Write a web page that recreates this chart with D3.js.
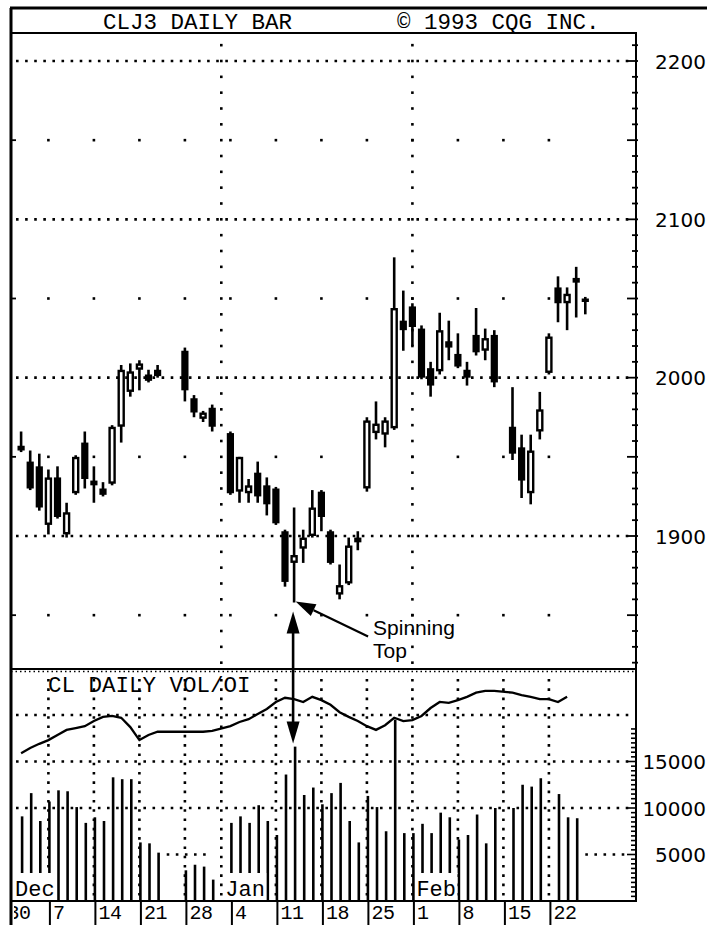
<!DOCTYPE html>
<html>
<head>
<meta charset="utf-8">
<title>CLJ3 Daily Bar</title>
<script src="https://cdn.jsdelivr.net/npm/d3@7"></script>
<style>
  body { margin: 0; background: #fff; }
  svg { display: block; }
  .mono { font-family: 'Liberation Mono', 'DejaVu Sans Mono', monospace; fill: #000; }
  .num { font-family: 'DejaVu Sans', sans-serif; font-size: 20px; fill: #000; }
</style>
</head>
<body>
<div id="chart"></div>
<script>
'use strict'
// daily bars, crude oil April 1993 (CLJ3), prices in cents
let dates = [
  '1992-12-02','1992-12-03','1992-12-04',
  '1992-12-07','1992-12-08','1992-12-09','1992-12-10','1992-12-11',
  '1992-12-14','1992-12-15','1992-12-16','1992-12-17','1992-12-18',
  '1992-12-21','1992-12-22','1992-12-23',
  '1992-12-28','1992-12-29','1992-12-30','1992-12-31',
  '1993-01-04','1993-01-05','1993-01-06','1993-01-07','1993-01-08',
  '1993-01-11','1993-01-12','1993-01-13','1993-01-14','1993-01-15',
  '1993-01-18','1993-01-19','1993-01-20','1993-01-21','1993-01-22',
  '1993-01-25','1993-01-26','1993-01-27','1993-01-28','1993-01-29',
  '1993-02-01','1993-02-02','1993-02-03','1993-02-04','1993-02-05',
  '1993-02-08','1993-02-09','1993-02-10','1993-02-11','1993-02-12',
  '1993-02-16','1993-02-17','1993-02-18','1993-02-19',
  '1993-02-22','1993-02-23','1993-02-24','1993-02-25','1993-02-26'
];
let opens = [
  1957,1947,1944,
  1907,1937,1901,1927,1959,
  1935,1930,1933,1969,1991,
  2005,2002,2005,
  2017,1987,1974,1981,
  1965,1928,1927,1940,1932,
  1930,1903,1883,1892,1900,
  1928,1903,1863,1870,1899,
  1930,1965,1964,1968,2036,
  2045,2031,2006,2004,2023,
  2015,2005,2027,2017,2027,
  1969,1956,1927,1966,
  2003,2057,2047,2063,2050
];
let highs = [
  1966,1954,1952,
  1942,1944,1921,1951,1966,
  1944,1934,1970,2008,2009,
  2011,2005,2008,
  2019,1989,1979,1983,
  1966,1950,1936,1947,1937,
  1931,1904,1918,1904,1929,
  1929,1904,1882,1899,1903,
  1975,1985,1975,2076,2055,
  2047,2033,2010,2041,2036,
  2028,2010,2044,2031,2030,
  1994,1964,1964,1991,
  2028,2064,2057,2070,2051
];
let lows = [
  1953,1929,1916,
  1901,1911,1899,1926,1930,
  1921,1925,1932,1959,1988,
  1992,1997,2000,
  1985,1975,1972,1966,
  1926,1921,1921,1921,1913,
  1907,1868,1858,1883,1899,
  1903,1882,1860,1869,1891,
  1928,1961,1956,1967,2017,
  2020,1999,1988,2002,2011,
  2006,1995,2014,2011,1994,
  1948,1924,1920,1961,
  2002,2035,2030,2038,2040
];
let closes = [
  1954,1930,1918,
  1937,1912,1915,1950,1936,
  1932,1926,1969,2005,2004,
  2009,1998,2001,
  1992,1978,1978,1969,
  1927,1950,1932,1925,1920,
  1908,1871,1888,1899,1918,
  1912,1883,1869,1894,1896,
  1973,1971,1973,2044,2030,
  2032,2000,1995,2030,2019,
  2007,2000,2016,2025,1997,
  1952,1935,1954,1980,
  2026,2047,2053,2060,2048
];
let volumes = [
  9100,11600,8600,
  10700,11900,11800,10100,8400,
  9000,8600,13300,13100,13100,
  6300,6200,5200,
  3300,3900,3700,2300,
  8400,9100,8400,10300,8600,
  7100,13600,16600,11400,12200,
  10400,11600,12700,8600,6300,
  11300,10100,7500,19500,7300,
  7300,8300,7300,9500,9000,
  6600,7100,9300,6200,10000,
  10000,12500,12300,13200,
  null,11500,9000,8900,null
];
let openInt = [
  15900,16450,16900,
  17300,17850,18400,18600,18800,
  19350,19800,19900,19700,18700,
  17300,17850,18200,
  18200,18200,18200,18300,
  18800,19250,19550,20100,20650,
  21400,21850,21700,21400,21950,
  21600,21100,20300,19800,19350,
  18800,18400,18900,19700,19350,
  19450,19900,20750,21400,21300,
  21600,21950,22400,22600,22600,
  22400,22150,21950,21700,
  21700,21400,21950,null,null
];
let weekLabels = ['30','7','14','21','28','4','11','18','25','1','8','15','22'];
let monthLabels = ['Dec','Jan','Feb'];
let monthStarts = ['1992-11-30','1993-01-01','1993-02-01'];
let priceTicks = [1900, 2000, 2100, 2200];
let volTicks = [5000, 10000, 15000];

let W = 707, H = 925;
let L = 11, R = 636, bandTop = 8, bandBot = 33, priceBot = 669, volBot = 901;

let parse = d3.timeParse('%Y-%m-%d');
let day0 = parse('1992-11-30');
// trading slot: five per week, weekends dropped
function slot(ds) {
  let n = d3.timeDay.count(day0, parse(ds));
  return Math.floor(n / 7) * 5 + Math.min(n % 7, 5);
}
let slots = dates.map(slot);
let weekSlots = weekLabels.map((d, i) => i * 5);
let monthSlots = monthStarts.map(slot);

let x = d3.scaleLinear().domain([0, 64]).range([2.9, 585.3]);
let py = d3.scaleLinear().domain([1900, 2200]).range([536, 61]);
let vy = d3.scaleLinear().domain([0, 15000]).range([volBot, 761.5]);

let svg = d3.select('#chart').append('svg')
  .attr('width', W).attr('height', H)
  .attr('viewBox', '0 0 ' + W + ' ' + H);

svg.append('defs').append('clipPath').attr('id', 'dateclip')
  .append('rect').attr('x', L + 2).attr('y', 0).attr('width', W).attr('height', H);

let grid = svg.append('g').attr('fill', '#000');

// price panel: dotted 100s
grid.selectAll('line.hgrid').data(priceTicks).enter().append('line')
  .attr('x1', L + 5).attr('x2', R - 6)
  .attr('y1', d => py(d)).attr('y2', d => py(d))
  .attr('stroke', '#000').attr('stroke-width', 2.6)
  .attr('stroke-dasharray', '2.6 6.5');

// weekly dots on the 50 rows
let halfRows = [1850, 1950, 2050, 2150];
let weekDots = [];
halfRows.forEach(v => weekSlots.slice(1).forEach(s => weekDots.push([s, v])));
grid.selectAll('rect.wdot').data(weekDots).enter().append('rect')
  .attr('x', d => x(d[0]) - 1.3).attr('y', d => py(d[1]) - 1.3)
  .attr('width', 2.6).attr('height', 2.6);

// month lines, a dot every 10 points
let monthDots = [];
monthSlots.slice(1).forEach(s => d3.range(1820, 2220, 10).forEach(v => monthDots.push([s, v])));
grid.selectAll('rect.mdot').data(monthDots).enter().append('rect')
  .attr('x', d => x(d[0]) - 1.3).attr('y', d => py(d[1]) - 1.3)
  .attr('width', 2.6).attr('height', 2.6);

// volume panel grid
grid.selectAll('line.vgrid').data([20000, 15000, 10000]).enter().append('line')
  .attr('x1', L + 5).attr('x2', R - 6)
  .attr('y1', d => vy(d)).attr('y2', d => vy(d))
  .attr('stroke', '#000').attr('stroke-width', 2.6)
  .attr('stroke-dasharray', '2.6 6.5');
grid.selectAll('line.v5').data([[18, 23], [64, 69]]).enter().append('line')
  .attr('x1', d => x(d[0])).attr('x2', d => x(d[1]))
  .attr('y1', vy(5000)).attr('y2', vy(5000))
  .attr('stroke', '#000').attr('stroke-width', 2.6)
  .attr('stroke-dasharray', '2.6 6.5');
let volCols = weekSlots.slice(1).filter(s => s !== 25).concat([monthSlots[1]]);
grid.selectAll('line.vcol').data(volCols).enter().append('line')
  .attr('x1', d => x(d)).attr('x2', d => x(d))
  .attr('y1', 679).attr('y2', volBot - 2)
  .attr('stroke', '#000').attr('stroke-width', 2.6)
  .attr('stroke-dasharray', '2.6 6.7');

// volume bars and open interest
let vol = svg.append('g');
vol.selectAll('line.vbar').data(dates.map((d, i) => i).filter(i => volumes[i] != null))
  .enter().append('line')
  .attr('x1', i => x(slots[i]) + 1).attr('x2', i => x(slots[i]) + 1)
  .attr('y1', i => vy(volumes[i])).attr('y2', volBot)
  .attr('stroke', '#000').attr('stroke-width', 2.6);

let oiLine = d3.line()
  .defined(d => d[1] != null)
  .x(d => x(d[0]))
  .y(d => vy(d[1]));
vol.append('path')
  .datum(slots.map((s, i) => [s, openInt[i]]))
  .attr('d', oiLine)
  .attr('fill', 'none').attr('stroke', '#000').attr('stroke-width', 2.3);

// month names sit in white boxes over the bars
let mlab = svg.append('g');
mlab.selectAll('rect').data(monthSlots).enter().append('rect')
  .attr('x', d => Math.max(x(d) + 3, L + 1))
  .attr('y', 873).attr('width', (d, i) => i === 0 ? 44 : 42).attr('height', volBot - 873)
  .attr('fill', '#fff');
mlab.selectAll('text').data(monthSlots).enter().append('text')
  .attr('class', 'mono')
  .attr('x', d => Math.max(x(d) + 4, L + 4))
  .attr('y', 896)
  .attr('font-size', 22)
  .text((d, i) => monthLabels[i]);

// candles
let bars = svg.append('g').selectAll('g.candle')
  .data(dates.map((d, i) => i))
  .enter().append('g').attr('class', 'candle');
bars.append('line')
  .attr('x1', i => x(slots[i])).attr('x2', i => x(slots[i]))
  .attr('y1', i => py(highs[i])).attr('y2', i => py(lows[i]))
  .attr('stroke', '#000').attr('stroke-width', 2.6);
bars.append('rect')
  .attr('x', i => x(slots[i]) - (closes[i] >= opens[i] ? 2.5 : 3.6))
  .attr('width', i => closes[i] >= opens[i] ? 5 : 7.2)
  .attr('y', i => closes[i] >= opens[i] ? py(closes[i]) + 1.2 : py(opens[i]))
  .attr('height', i => {
    let h = Math.abs(py(closes[i]) - py(opens[i]));
    return closes[i] >= opens[i] ? Math.max(h - 2.4, 2) : Math.max(h, 3.5);
  })
  .attr('fill', i => closes[i] >= opens[i] ? '#fff' : '#000')
  .attr('stroke', '#000')
  .attr('stroke-width', i => closes[i] >= opens[i] ? 2.4 : 0);

// frame
let frame = svg.append('g').attr('stroke', '#000').attr('fill', 'none');
frame.append('line').attr('x1', L - 1).attr('x2', W).attr('y1', bandTop).attr('y2', bandTop).attr('stroke-width', 3);
frame.append('line').attr('x1', L).attr('x2', L).attr('y1', bandTop).attr('y2', H).attr('stroke-width', 3);
frame.append('line').attr('x1', L).attr('x2', R + 1).attr('y1', bandBot).attr('y2', bandBot).attr('stroke-width', 2);
frame.append('line').attr('x1', R).attr('x2', R).attr('y1', bandBot).attr('y2', volBot).attr('stroke-width', 2);
frame.append('line').attr('x1', L).attr('x2', R + 1).attr('y1', priceBot).attr('y2', priceBot).attr('stroke-width', 2);
frame.append('line').attr('x1', L).attr('x2', R).attr('y1', priceBot + 2.5).attr('y2', priceBot + 2.5)
  .attr('stroke-width', 1.5).attr('stroke-dasharray', '1.5 3');
frame.append('line').attr('x1', L).attr('x2', R + 1).attr('y1', volBot).attr('y2', volBot).attr('stroke-width', 2);

// border ticks
frame.selectAll('line.pt').data(d3.range(1820, 2220, 10)).enter().append('line')
  .attr('x1', d => d % 50 === 0 ? R - 9 : R - 4).attr('x2', R + 2)
  .attr('y1', d => py(d)).attr('y2', d => py(d)).attr('stroke-width', 1.8);
frame.selectAll('line.lt').data(halfRows).enter().append('line')
  .attr('x1', L).attr('x2', L + 5)
  .attr('y1', d => py(d)).attr('y2', d => py(d)).attr('stroke-width', 1.8);
frame.selectAll('line.vt').data(d3.range(0, 19000, 500)).enter().append('line')
  .attr('x1', d => d % 5000 === 0 ? R - 9 : R - 5).attr('x2', R + 1)
  .attr('y1', d => vy(d)).attr('y2', d => vy(d)).attr('stroke-width', 1.6);

// right axes
let pAxis = svg.append('g').attr('transform', 'translate(' + R + ',0)')
  .call(d3.axisRight(py).tickValues(priceTicks).tickSize(0).tickFormat(d3.format('d')));
let vAxis = svg.append('g').attr('transform', 'translate(' + R + ',0)')
  .call(d3.axisRight(vy).tickValues(volTicks).tickSize(0).tickFormat(d3.format('d')));
[pAxis, vAxis].forEach(a => {
  a.select('.domain').remove();
  a.selectAll('text').attr('class', 'num').attr('x', 70).attr('dy', '0.36em')
    .attr('text-anchor', 'end').attr('font-family', null).attr('font-size', null);
});

// date axis, label to the right of each tick
let dAxis = svg.append('g').attr('transform', 'translate(1,' + volBot + ')')
  .attr('clip-path', 'url(#dateclip)')
  .call(d3.axisBottom(x).tickValues(weekSlots).tickSize(24).tickFormat((d, i) => weekLabels[i]));
dAxis.select('.domain').remove();
dAxis.selectAll('line').attr('stroke-width', 2);
dAxis.selectAll('text').attr('class', 'mono').attr('text-anchor', 'start')
  .attr('x', 3).attr('y', 18).attr('dy', 0)
  .attr('font-family', null).attr('font-size', 20).attr('letter-spacing', -0.5);

// titles
svg.append('text').attr('class', 'mono').attr('x', 103).attr('y', 29).attr('font-size', 22.5).text('CLJ3 DAILY BAR');
svg.append('text').attr('class', 'mono').attr('x', 397).attr('y', 29).attr('font-size', 22.5).text('\u00a9 1993 CQG INC.');
svg.append('text').attr('class', 'mono').attr('x', 48).attr('y', 692).attr('font-size', 22.5).text('CL DAILY VOL/OI');

// spinning top annotation
function head(x1, y1, x2, y2, len, hw) {
  let dx = x2 - x1, dy = y2 - y1, d = Math.sqrt(dx * dx + dy * dy);
  let ux = dx / d, uy = dy / d;
  let bx = x2 - ux * len, by = y2 - uy * len;
  return [[x2, y2], [bx - uy * hw, by + ux * hw], [bx + uy * hw, by - ux * hw]];
}
let spin = dates.indexOf('1993-01-13');
let tx = x(slots[spin]), ty = py(lows[spin]);
let note = svg.append('g');
let a0 = [tx + 74, ty + 34], a1 = [tx + 1.5, ty - 1];
let h1 = head(a0[0], a0[1], a1[0], a1[1], 20, 6.5);
note.append('line').attr('x1', a0[0]).attr('y1', a0[1])
  .attr('x2', (h1[1][0] + h1[2][0]) / 2).attr('y2', (h1[1][1] + h1[2][1]) / 2)
  .attr('stroke', '#000').attr('stroke-width', 2.2);
note.append('polygon').attr('points', h1.join(' ')).attr('fill', '#000');

let vx = tx - 1;
let up = [vx, ty + 9], down = [vx, vy(volumes[spin]) - 3];
let hu = head(down[0], down[1], up[0], up[1], 22, 6.5);
let hd = head(up[0], up[1], down[0], down[1], 22, 6.5);
note.append('line').attr('x1', vx).attr('x2', vx).attr('y1', up[1] + 20).attr('y2', down[1] - 20)
  .attr('stroke', '#000').attr('stroke-width', 2.6);
note.append('polygon').attr('points', hu.join(' ')).attr('fill', '#000');
note.append('polygon').attr('points', hd.join(' ')).attr('fill', '#000');

note.append('text').attr('x', tx + 79).attr('y', ty + 32)
  .attr('font-family', 'Liberation Sans, Arial, sans-serif').attr('font-size', 21).text('Spinning');
note.append('text').attr('x', tx + 79).attr('y', ty + 55)
  .attr('font-family', 'Liberation Sans, Arial, sans-serif').attr('font-size', 21).text('Top');
</script>
</body>
</html>
